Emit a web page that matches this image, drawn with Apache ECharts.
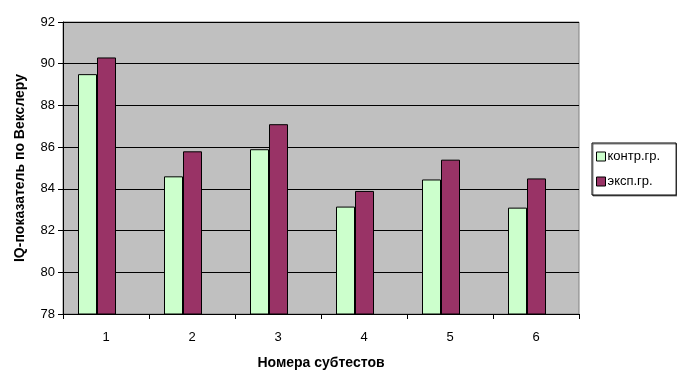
<!DOCTYPE html>
<html>
<head>
<meta charset="utf-8">
<script src="https://cdn.jsdelivr.net/npm/echarts@6/dist/echarts.min.js"></script>
<style>html,body{margin:0;padding:0;background:#fff}#c{width:677px;height:372px}</style>
</head>
<body>
<div id="c"></div>
<script>
const categories = ['1','2','3','4','5','6'];
const seriesNames = ['контр.гр.','эксп.гр.'];
const controlValues = [89.5, 84.6, 85.9, 83.15, 84.45, 83.1];
const expValues = [90.3, 85.8, 87.1, 83.9, 85.4, 84.5];
const yTicks = [78, 80, 82, 84, 86, 88, 90, 92];
// empty placeholder (no values) so each bar pair sits left of the category centre as in the reference
const spacerValues = [null, null, null, null, null, null];

const chart = echarts.init(document.getElementById('c'), null, {renderer:'canvas'});
const font = 'Arial, "Liberation Sans", sans-serif';
chart.setOption({
  animation: false,
  textStyle: {fontFamily: font},
  grid: {left: 63, right: 98, top: 22, bottom: 58, outerBoundsMode: 'none', containLabel: false,
         show: true, backgroundColor: '#C0C0C0', borderColor: '#808080', borderWidth: 1},
  legend: {
    orient: 'vertical', left: 592, top: 143,
    data: seriesNames,
    icon: 'rect', itemWidth: 9, itemHeight: 9, itemGap: 10,
    borderColor: '#000', borderWidth: 1, padding: [6, 16, 6, 4],
    backgroundColor: '#fff',
    shadowColor: 'rgba(0,0,0,0.5)', shadowOffsetX: 1, shadowOffsetY: 1,
    textStyle: {fontFamily: font, fontSize: 13, lineHeight: 15, color: '#000', padding: [0,0,0,-3]},
    itemStyle: {borderColor: '#000', borderWidth: 1}
  },
  xAxis: {
    type: 'category', data: categories,
    name: 'Номера субтестов', nameLocation: 'middle', nameGap: 42,
    nameTextStyle: {fontFamily: font, fontWeight: 'bold', fontSize: 14, color: '#000'},
    axisLine: {lineStyle: {color: '#000'}},
    axisTick: {show: true, length: 5, lineStyle: {color: '#000'}},
    axisLabel: {color: '#000', fontSize: 13, margin: 17}
  },
  yAxis: {
    type: 'value', min: yTicks[0], max: yTicks[yTicks.length-1], interval: 2,
    name: 'IQ-показатель по Векслеру', nameLocation: 'middle', nameGap: 36,
    nameTextStyle: {fontFamily: font, fontWeight: 'bold', fontSize: 14, color: '#000'},
    axisLine: {show: true, lineStyle: {color: '#000'}},
    axisTick: {show: true, length: 5, lineStyle: {color: '#000'}},
    axisLabel: {color: '#000', fontSize: 13, margin: 8},
    splitLine: {show: true, lineStyle: {color: '#000', width: 1}}
  },
  series: [
    {name: seriesNames[0], type: 'bar', data: controlValues, barWidth: 19, barGap: '0%',
     itemStyle: {color: '#CCFFCC', borderColor: '#000', borderWidth: 1}},
    {name: seriesNames[1], type: 'bar', data: expValues, barWidth: 19, barGap: '0%',
     itemStyle: {color: '#993366', borderColor: '#000', borderWidth: 1}},
    {name: 'spacer', type: 'bar', data: spacerValues, barWidth: 18, barGap: '0%', silent: true}
  ]
});
</script>
</body>
</html>
